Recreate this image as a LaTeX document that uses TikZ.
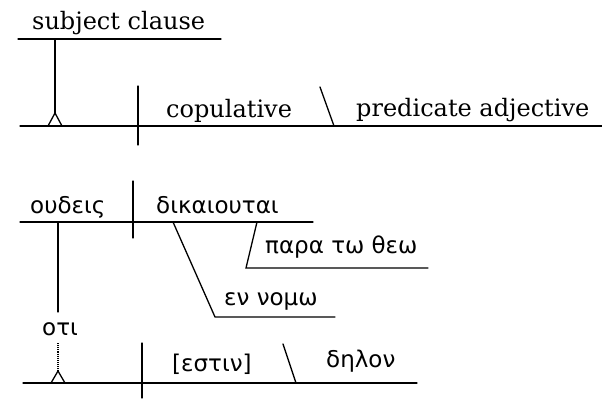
\documentclass[tikz,border=0pt]{standalone}
\usepackage{fontspec}
\setmainfont{DejaVu Serif}
\newfontfamily\grk{DejaVu Sans}
\begin{document}
\begin{tikzpicture}[x=1pt,y=-1pt,
  lbl/.style={anchor=base west,inner sep=0pt,font=\fontsize{24}{27}\selectfont},
  glbl/.style={anchor=base west,inner sep=0pt,font=\grk\fontsize{23}{26}\selectfont},
  ln/.style={line width=1.3pt,line cap=round},
  dotstem/.style={line width=1.1pt,densely dotted}]
\useasboundingbox (0,0) rectangle (602,399);
% ---------- upper diagram ----------
\node[lbl] (subj) at (32,29) {subject clause};
\node[lbl] (cop) at (166,117) {copulative};
\node[lbl] (pred) at (356,116) {predicate adjective};
\coordinate (sL) at (18,39);
\coordinate (sR) at (221,39);
\coordinate (st1) at (55,39);
\coordinate (ap1) at (55,113);
\coordinate (tl1) at (48,126);
\coordinate (tr1) at (62,126);
\coordinate (mL) at (20,126);
\coordinate (mR) at (602,126);
\coordinate (d1t) at (138,86);
\coordinate (d1b) at (138,145);
\coordinate (b1t) at (320,87);
\coordinate (b1b) at (334,126);
\draw[ln] (sL) -- (sR);
\draw[ln] (st1) -- (ap1);
\draw[ln] (tl1) -- (ap1) -- (tr1);
\draw[ln] (mL) -- (mR);
\draw[ln] (d1t) -- (d1b);
\draw[ln] (b1t) -- (b1b);
% ---------- lower diagram ----------
\node[glbl] (oud) at (30,213) {ουδεις};
\node[glbl] (dik) at (156,213) {δικαιουται};
\node[glbl] (para) at (265,253) {παρα τω θεω};
\node[glbl] (en) at (224,305) {εν νομω};
\node[glbl] (oti) at (42,335) {οτι};
\node[glbl] (est) at (172,371) {[εστιν]};
\node[glbl] (dil) at (326,367) {δηλον};
\coordinate (aL) at (20,222);
\coordinate (aR) at (313,222);
\coordinate (d2t) at (133,181);
\coordinate (d2b) at (133,238);
\coordinate (st2) at (58,222);
\coordinate (st2b) at (58,312);
\coordinate (ds2) at (58,343);
\coordinate (ap2) at (58,371);
\coordinate (tl2) at (51,383);
\coordinate (tr2) at (65,383);
\coordinate (bL) at (23,383);
\coordinate (bR) at (417,383);
\coordinate (d3t) at (142,343);
\coordinate (d3b) at (142,398);
\coordinate (b2t) at (283,344);
\coordinate (b2b) at (296,383);
\coordinate (s1a) at (173,222);
\coordinate (s1b) at (215,317);
\coordinate (s1c) at (335,317);
\coordinate (s2a) at (257,222);
\coordinate (s2b) at (246,268);
\coordinate (s2c) at (428,268);
\draw[ln] (aL) -- (aR);
\draw[ln] (d2t) -- (d2b);
\draw[ln] (st2) -- (st2b);
\draw[dotstem] (ds2) -- (ap2);
\draw[ln] (tl2) -- (ap2) -- (tr2);
\draw[ln] (bL) -- (bR);
\draw[ln] (d3t) -- (d3b);
\draw[ln] (b2t) -- (b2b);
\draw[ln] (s1a) -- (s1b) -- (s1c);
\draw[ln] (s2a) -- (s2b) -- (s2c);
\end{tikzpicture}
\end{document}
